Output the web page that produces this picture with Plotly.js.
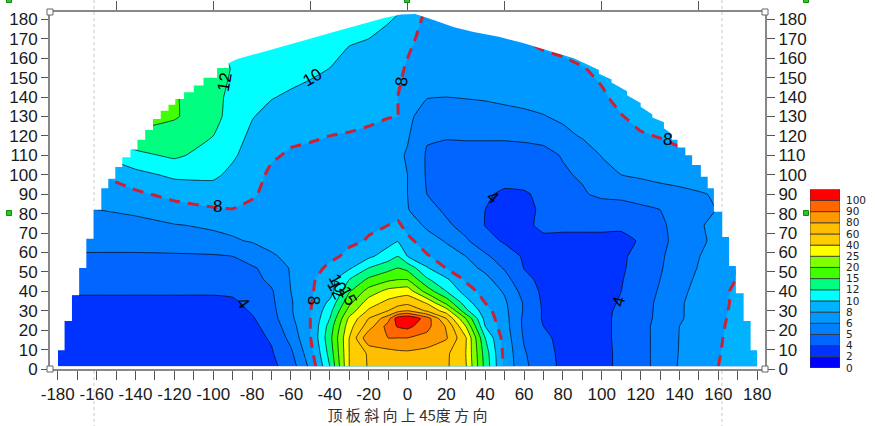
<!DOCTYPE html>
<html><head><meta charset="utf-8">
<script src="https://cdn.plot.ly/plotly-3.0.1.min.js"></script>
<style>html,body{margin:0;padding:0;background:#fff}#c{width:875px;height:426px}</style></head>
<body><div id="c"></div>
<script>
const levels=[0,2,4,5,6,8,10,12,15,20,25,40,60,80,90,100];
const levelLabels=levels.map(String);
const bandColors=['#0000FF','#0033FF','#0066FF','#0080FF','#0099FF','#00B2FF','#00FFFF','#00FF80','#40FF00','#80FF00','#FFFF00','#FFCC00','#FFBF00','#FF9900','#FF6600','#FF0000'];
const gridX=[-180,-160,-140,-120,-100,-90,-80,-70,-60,-50,-40,-30,-20,-10,-5,0,10,20,30,40,50,60,70,80,90,100,110,120,130,140,160,180];
const gridY=[1.4,8,16,22,26,30,34,40,46,52,58,66,74,82,90,100,110,120,130,140,155,170,183.5];
const r01=[3,3,3,3,3,3,3,3.5,4.5,6.5,12,40,62,66,69,70,68,63,42,14,7.5,5.2,4.4,3.6,3.3,3.5,4.2,4.7,5.3,6.2,8,9.5];
const r02=[3,3,3,3,3,3,3,3.8,4.8,7.2,13.1,40,63,72,75,76,72,64,40,13.6,7.4,5.1,4.3,3.6,3.3,3.5,4.2,4.7,5.3,6.1,7.9,9.5];
const r03=[3,3,3,3,3,3,3.4,4.1,5.3,7.9,14,40,88,90,90,90,87,81,42,12,7.1,4.9,4.15,3.6,3.2,3.6,4.2,4.7,5.3,6.05,7.8,9.5];
const r04=[3,3,3,3,3,3,3.5,4.4,5.6,8,13.2,34,70,94,101,103,93,78,25,10,6.8,4.8,4,3.5,3.2,3.6,4.2,4.7,5.3,6,7.7,9.5];
const r05=[3,3,3,3,3,3,3.8,4.6,5.8,8,12,28,60,86,106,110,95,60,20,9.3,6.7,4.8,3.8,3.4,3.1,3.6,4.2,4.7,5.2,5.9,7.6,9.5];
const r06=[3.3,3.3,3.3,3.3,3.3,3.3,4.1,4.7,5.9,7.9,11.3,22,43,60,72,80,57,33,12.8,8.8,6.5,4.9,3.8,3.4,3.1,3.6,4.15,4.65,5.2,5.9,7.5,9.5];
const r07=[3.6,3.6,3.6,3.6,3.6,3.6,4.3,4.8,5.9,7.8,10.5,18.7,33,46,52,55,39,18.7,11,8,6.3,4.9,3.7,3.3,3,3.4,4.1,4.6,5.2,5.9,7.4,9.5];
const r08=[4.1,4.1,4.1,4.1,4.1,4.2,4.5,4.9,6,7.8,9,14.7,22,30,32,34,17.8,12,9.1,7.1,5.9,4.6,3.6,3.2,3,3.4,4,4.5,5.1,5.8,7.4,9.5];
const r09=[4.3,4.3,4.3,4.3,4.3,4.4,4.7,5.2,6.1,7.6,9.2,12,16,19,20,20,12.5,10.4,7.7,6.6,5.4,4.2,3.6,3.2,3.1,3.5,3.9,4.4,5,5.7,7.2,9];
const r10=[4.6,4.6,4.6,4.6,4.6,4.7,4.9,5.3,6.2,7.2,8.4,9.7,12,14,15,14,10.2,7.9,6.8,5.75,4.9,3.95,3.6,3.3,3.2,3.5,3.8,4.3,4.9,5.6,7,9];
const r11=[4.9,4.9,4.9,4.9,4.9,5,5.4,5.9,6.4,7,7.6,8.4,9.6,11,12,10,8.2,7.05,6,5.2,4.4,3.8,3.5,3.4,3.3,3.5,3.8,4.2,4.85,5.5,6.9,8];
const r12=[5.3,5.3,5.3,5.4,5.75,5.9,6.15,6.5,6.8,7.1,7.4,7.7,8.1,9.3,9.9,8.5,7,5.9,5.15,4.3,3.8,3.5,3.6,3.5,3.5,3.5,3.7,4.05,4.7,5.4,6.5,8];
const r13=[5.6,5.6,5.7,5.95,6.25,6.45,6.65,6.85,7,7.2,7.4,7.6,7.8,8,8.4,7.3,5.8,5.2,4.6,3.95,3.5,3.6,4.2,4.2,4.2,4.2,4.1,4.2,4.85,5.3,6.8,8];
const r14=[6,6,6.4,7.2,7.8,7.95,7.6,7,7,7,7,7.1,7.1,7.2,7.1,6.1,5.4,4.8,4.4,4,3.5,3.7,4.1,4.2,4.3,4.5,4.6,4.8,5,5.4,6.1,8];
const r15=[6.9,6.9,7.6,8.6,9,8.8,8.2,7.5,7.3,7.2,7.2,7.1,7.1,7,6.8,6,5,4.7,4.4,4.2,3.5,3.7,4.3,4.5,4.9,5.2,5.25,5.4,5.6,5.75,6.2,8];
const r16=[8,8,9.4,10.4,10.4,9.5,8.6,7.7,7.5,7.3,7.1,7,6.9,6.7,6.4,6,4.9,4.7,4.6,4.6,4.6,4.6,4.7,4.9,5.1,5.6,6,6.3,6.6,6.8,7.5,8.5];
const r17=[10,10,11.5,12.5,11.2,10.3,9.1,8.2,7.8,7.6,7.5,7.2,7,6.8,6.4,5.9,4.9,4.8,4.7,4.7,4.7,4.7,4.8,5.05,5.4,6.1,6.5,6.8,7.2,7.6,8,8.5];
const r18=[12,12,14,13.6,12,10.8,9.6,8.8,8.3,8.2,8,7.9,7.7,7.5,7,6.2,5.1,5.05,5.1,5.1,5.1,5.15,5.2,5.7,6.2,6.6,7,7.8,8.1,8.5,9,9];
const r19=[18,18,18,15.5,13,11.2,10.1,9.4,9,8.8,8.6,8.4,8.3,8.05,8,6.5,5.5,5.4,5.5,5.6,5.7,5.8,5.95,6.4,6.8,7.3,7.9,8.6,9,9.5,9.5,9.5];
const r20=[16,16,16,15.5,12.7,11.6,10.9,10.1,9.7,9.4,9.2,9,8.6,8.3,8,7.2,6.1,6,6.1,6.2,6.4,6.6,6.8,7,7.3,7.7,8.6,9,9.5,9.5,9.5,9.5];
const r21=[14,14,14,14,13,11.9,11.5,11.2,10.8,10.4,10,9.4,8.9,8.4,8.2,7.9,7.4,7,7,7,7.2,7.3,7.4,7.5,7.9,8.5,9,9.5,9.5,9.5,9.5,9.5];
const r22=[12,12,12,12,12,11.2,11,11,10.8,10.6,10.4,10.2,10,9.2,8.7,8.2,7.7,7.5,7.6,7.7,7.8,8,8.4,8.8,9.5,9.5,9.5,9.5,9.5,9.5,9.5,9.5];
const r23=[12,12,12,12,12,12,12,12,11.5,11.5,11.5,11.5,11,10.6,10.1,9,7.8,7.6,7.6,7.7,7.8,8,8.5,9,9.5,9.5,9.5,9.5,9.5,9.5,9.5,9.5];
const gridZ=[r01,r02,r03,r04,r05,r06,r07,r08,r09,r10,r11,r12,r13,r14,r15,r16,r17,r18,r19,r20,r21,r22,r23];
// outline of the sampled region (everything beyond it is blank)
const rimX=[-180,-180,-176.5,-176.5,-172.7,-172.7,-169,-169,-165.3,-165.3,-161.6,-161.6,-157.6,-157.6,-154,-154,-150.4,-150.4,-146.8,-146.8,-142.6,-142.6,-139,-139,-135,-135,-131,-131,-127,-127,-123,-123,-119.5,-119.5,-115,-115,-110,-110,-105,-105,-98,-98,-92,-92,-87.5,-77,-67,-52,-38,-25,-12,-3.6,4,13.4,24,34,47,59,72,85.6,92,98.5,98.5,105,105,113,113,120,120,126,126,132,132,136,136,139,139,143,143,146.5,146.5,151,151,154.5,154.5,157.7,157.7,162,162,165.5,165.5,169,169,173,173,176.6,176.6,180,180,184,184,-184,-184,-180];
const rimY=[1.4,9.6,9.6,24.7,24.7,38,38,52,52,67,67,82,82,93,93,98,98,104,104,109,109,113,113,118,118,123,123,128.7,128.7,133,133,136,136,139,139,142.5,142.5,146,146,150,150,155,155,157.5,159.6,162.5,165,169.5,173.5,177,180.7,182.5,182.8,179.7,176,173.5,171,168,164,160,157,154,152,149,147.5,143,141,137,135,131,129.5,127,124,121,118,118,114,114,110,110,105,105,99,99,93,93,81,81,68,68,53,53,39,39,24.7,24.7,9.7,9.7,1.4,1.4,184,184,1.4,1.4];
const xTickVals=[];const xTickText=[];
for(let v=-180;v<=180;v+=10){xTickVals.push(v);xTickText.push(v%20===0?String(v):'');}
const yTickVals=[0,10,20,30,40,50,60,70,80,90,100,110,120,130,140,150,160,170,180];
const yTickText=yTickVals.map(String);
const topTicks=[-150,-100,-50,0,50,100,150];
const lineLabels=[
 ['12',-94,148,-80],['10',-49,150,-30],['8',-3,148,-85],['8',-98,83.5,0],['8',134,118,5],
 ['8',-48,35.5,90],['4',-85,34,55],['4',44,88.5,40],['4',109,34.5,-75],['10',-36,44,62],['12',-37,40.7,62],['15',-31,37.6,62]];

function toIndex(v){
  for(let i=levels.length-1;i>=0;i--){
    if(v>=levels[i]){
      if(i===levels.length-1) return i+(v-levels[i])/10;
      return i+(v-levels[i])/(levels[i+1]-levels[i]);
    }
  }
  return 0;
}
const zIdx=gridZ.map(r=>r.map(toIndex));
const cs=bandColors.map((c,i)=>[i/15,c]);
const base={type:'contour',x:gridX,y:gridY,z:zIdx,hoverinfo:'skip',showscale:false};
const sm=0.35;
const lineStyle={color:'#000',width:0.7,smoothing:sm};
const traces=[
 Object.assign({},base,{colorscale:cs,autocontour:false,contours:{coloring:'fill',start:1,end:15,size:1,showlines:false},line:{width:0,smoothing:sm}}),
 Object.assign({},base,{autocontour:false,contours:{coloring:'none',start:2,end:4,size:1},line:lineStyle}),
 Object.assign({},base,{autocontour:false,contours:{coloring:'none',start:6,end:15,size:1},line:lineStyle}),
 Object.assign({},base,{autocontour:false,contours:{coloring:'none',start:5,end:5,size:1},line:{color:'#CF2030',width:3,dash:'11px,8px',smoothing:sm}}),
 {type:'scatter',x:rimX,y:rimY,xaxis:'x2',yaxis:'y2',mode:'lines',fill:'toself',fillcolor:'#fff',line:{width:0,color:'#fff'},hoverinfo:'skip',showlegend:false},
 {type:'bar',x:levels.map(()=>0),y:levels.map(()=>1),base:levels.map((v,i)=>i),width:1,xaxis:'x3',yaxis:'y3',
  marker:{color:bandColors,line:{color:'#333',width:0.8}},hoverinfo:'skip',showlegend:false}
];
const tickFont={family:'Liberation Sans, Arial, sans-serif',size:17,color:'#1a1a1a'};
const xd=[0,715/790];
const px=p=>(p-50)/790, py=p=>(369-p)/357;
const handle=(x,y,r,fill,col)=>({type:'rect',xref:'paper',yref:'paper',x0:px(x-r),x1:px(x+r),y0:py(y+r),y1:py(y-r),fillcolor:fill,line:{color:col,width:1},layer:'above'});
const dots=(x,a,b)=>({type:'line',xref:'paper',yref:'paper',x0:px(x),x1:px(x),y0:py(a),y1:py(b),line:{color:'#c8c8c8',width:1,dash:'dot'},layer:'above'});
const layout={
 width:875,height:426,margin:{l:50,r:35,t:12,b:57},paper_bgcolor:'#fff',plot_bgcolor:'#fff',showlegend:false,
 xaxis:{domain:xd,range:[-184,184],tickmode:'array',tickvals:xTickVals,ticktext:xTickText,ticks:'outside',ticklen:9,tickcolor:'#555',tickwidth:1,tickfont:tickFont,showgrid:false,zeroline:false,showline:true,linecolor:'#888',linewidth:2,
   title:{text:'顶 板 斜 向 上 45度 方 向',font:{family:'Noto Sans CJK SC, sans-serif',size:15,color:'#333'},standoff:5}},
 yaxis:{domain:[0,1],range:[0,183.8],tickmode:'array',tickvals:yTickVals,ticktext:yTickText,ticks:'outside',ticklen:7,tickcolor:'#555',tickwidth:1,tickfont:tickFont,showgrid:false,zeroline:false,showline:true,linecolor:'#888',linewidth:2},
 xaxis2:{overlaying:'x',anchor:'y2',side:'top',range:[-184,184],tickmode:'array',tickvals:topTicks,ticktext:topTicks.map(()=>''),ticks:'outside',ticklen:9,tickcolor:'#555',showgrid:false,zeroline:false,showline:true,linecolor:'#888',linewidth:2},
 yaxis2:{overlaying:'y',anchor:'x2',side:'right',range:[0,183.8],tickmode:'array',tickvals:yTickVals,ticktext:yTickText,ticks:'outside',ticklen:8,tickcolor:'#555',tickwidth:1,tickfont:tickFont,showgrid:false,zeroline:false,showline:true,linecolor:'#888',linewidth:2},
 xaxis3:{domain:[760/790,1],anchor:'y3',range:[-0.5,0.5],visible:false,fixedrange:true},
 yaxis3:{domain:[0.003,0.5034],anchor:'x3',side:'right',range:[0,16],tickmode:'array',tickvals:levels.map((v,i)=>i),ticktext:levelLabels,ticks:'',ticklen:0,ticklabelstandoff:5,showgrid:false,zeroline:false,showline:false,tickfont:{family:'DejaVu Sans, sans-serif',size:10.5,color:'#222'}},
 annotations:lineLabels.map(a=>({text:a[0],x:a[1],y:a[2],xref:'x',yref:'y',textangle:a[3],showarrow:false,font:{family:'Liberation Sans, Arial, sans-serif',size:17,color:'#000'}})),
 shapes:[dots(94,0,205),dots(94,371,426),dots(722,0,212),dots(722,371,426),
  handle(50,12,3,'#fff','#666'),handle(765,12,3,'#fff','#666'),handle(50,369,3,'#fff','#666'),handle(765,369,3,'#fff','#666'),
  handle(9,0,2.5,'#22CC22','#118811'),handle(407,0,2.5,'#22CC22','#118811'),handle(806,0,2.5,'#22CC22','#118811'),handle(9,213,2.5,'#22CC22','#118811'),handle(806,213,2.5,'#22CC22','#118811')]
};
Plotly.newPlot('c',traces,layout,{displayModeBar:false,staticPlot:true});
</script></body></html>
